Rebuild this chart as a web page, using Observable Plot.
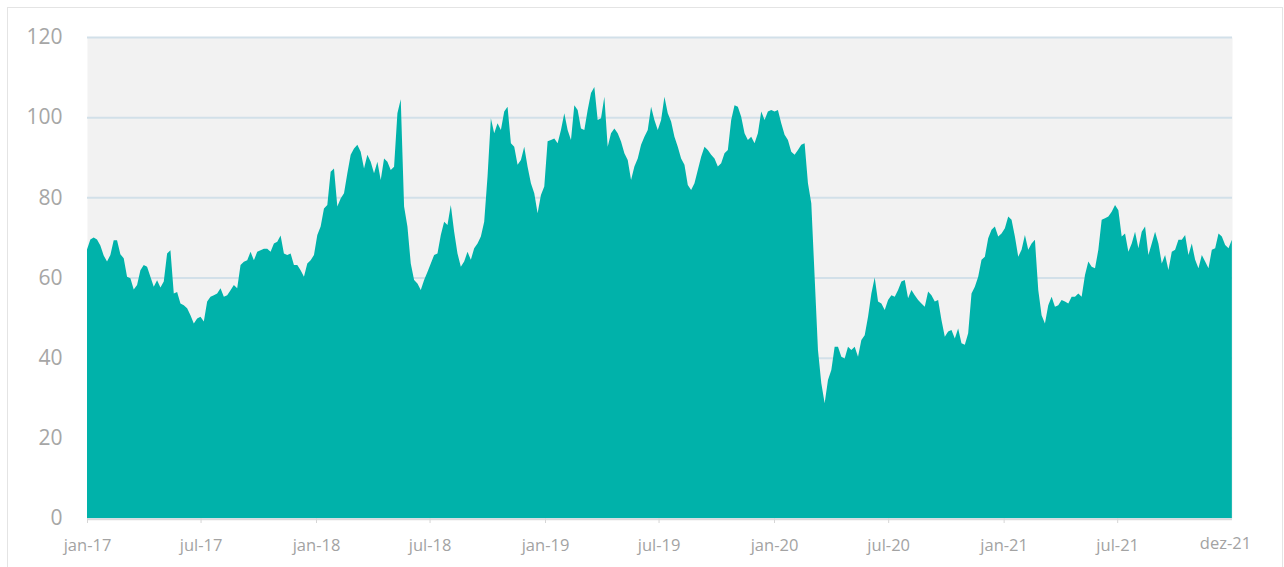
<!DOCTYPE html>
<html>
<head>
<meta charset="utf-8">
<script src="https://cdn.jsdelivr.net/npm/d3@7"></script>
<script src="https://cdn.jsdelivr.net/npm/@observablehq/plot@0.6"></script>
<style>
  html, body { margin: 0; padding: 0; background: #ffffff; }
  body { width: 1284px; height: 567px; position: relative; overflow: hidden; font-family: "Open Sans", sans-serif; }
  #frame { position: absolute; left: 7px; top: 7px; width: 1276px; height: 580px; border: 1px solid #e4e4e4; box-sizing: border-box; }
  #chart { position: absolute; left: 0; top: 0; }
</style>
</head>
<body>
<div id="frame"></div>
<div id="chart"></div>
<script>
// Series start and sampling step (one every ~5.32 days)
const startDate = "2017-01-01";
const stepDays = 5.32;

const values2017 = [67.0,69.5,70.0,69.5,68.0,65.5,64.0,65.6,69.3,69.3,65.8,64.8,60.2,59.8,57.0,58.1,61.8,63.1,62.7,60.2,
  57.7,59.3,57.5,59.0,66.0,66.8,56.0,56.4,53.5,53.1,52.3,50.6,48.5,49.8,50.2,49.0,54.0,55.2,55.6,56.0,
  57.3,55.2,55.6,56.8,58.1,57.3,63.1,63.9,64.3,66.4,64.3,66.4,66.8,67.2,67.2,66.4,68.5,68.9,70.5,66.0,
  65.6,66.0,63.1,63.1,61.8,60.2,63.5,64.3,65.6];
const values2018 = [70.6,72.7,77.2,78.1,86.4,87.2,77.7,79.7,81.0,86.0,90.6,92.2,93.1,91.4,87.2,90.6,88.9,86.0,88.9,84.3,
  89.7,88.9,86.8,87.6,101.0,104.5,77.7,72.7,63.5,59.4,58.5,56.9,59.4,61.4,63.5,65.6,66.0,70.6,73.9,73.1,
  78.1,71.4,66.0,62.7,64.0,66.4,64.4,67.3,68.5,70.2,73.9,85.2,99.7,96.0,98.5,96.8,101.4,102.6,93.5,92.6,
  88.1,89.3,92.6,87.6,83.5,81.0,76.0,80.6,82.7];
const values2019 = [94.0,94.3,94.7,93.5,96.8,101.0,96.8,94.3,103.0,101.8,97.2,96.8,101.8,106.0,107.5,99.3,99.7,105.1,92.6,96.0,
  97.2,96.0,93.9,91.0,89.3,84.3,87.7,89.7,93.1,95.1,96.8,102.6,99.3,96.8,99.3,105.1,101.0,98.9,95.1,92.6,
  89.7,88.1,83.1,81.8,83.5,86.8,90.1,92.6,91.8,90.6,89.7,87.7,88.5,91.0,91.8,99.3,103.0,102.6,100.1,96.0,
  94.3,95.1,93.5,96.0,101.4,99.3,101.4,101.8];
const values2020 = [101.4,101.8,98.5,95.6,94.3,91.4,90.6,91.8,93.1,93.5,83.5,78.5,60.2,41.9,33.6,28.6,34.4,36.9,42.7,42.7,
  40.2,39.8,42.7,41.9,42.7,40.2,44.4,45.6,50.2,56.0,60.0,54.0,53.5,51.9,54.4,55.6,55.2,56.9,59.0,59.4,
  54.8,56.9,55.6,54.4,53.5,52.7,56.5,55.6,54.0,54.4,49.4,45.2,46.5,46.9,44.8,47.3,43.6,43.2,46.1,56.0,
  57.7,60.2,64.4,65.2,69.8,71.9,72.7,70.2,71.0];
const values2021 = [72.3,75.2,74.4,70.2,65.2,66.9,70.6,66.9,68.5,69.4,56.9,50.6,48.5,53.1,55.2,52.7,53.1,54.4,54.0,53.5,
  55.2,55.2,56.0,55.2,60.6,64.0,62.7,62.3,66.9,74.4,74.8,75.2,76.4,78.1,76.8,70.2,71.0,66.4,68.5,71.4,
  67.3,71.4,72.7,65.6,68.5,71.4,68.5,63.5,65.6,61.9,66.4,66.9,69.4,69.4,70.6,65.6,68.5,64.4,62.3,65.6,
  64.0,62.3,66.9,67.3,71.0,70.2,68.1,67.3,69.4];

const yTicks = [0, 20, 40, 60, 80, 100, 120];
const xTickDates = ["2017-01-01","2017-07-01","2018-01-01","2018-07-01","2019-01-01","2019-07-01",
  "2020-01-01","2020-07-01","2021-01-01","2021-07-01"];
const xTickLabels = ["jan-17","jul-17","jan-18","jul-18","jan-19","jul-19","jan-20","jul-20","jan-21","jul-21"];
const lastLabel = "dez-21";

const allValues = [...values2017, ...values2018, ...values2019, ...values2020, ...values2021];
const t0 = new Date(startDate + "T00:00:00Z").getTime();
const data = allValues.map((v, i) => ({date: new Date(t0 + i * stepDays * 86400000), value: v}));
const tickDates = xTickDates.map(s => new Date(s + "T00:00:00Z"));
const labelOf = new Map(tickDates.map((d, i) => [+d, xTickLabels[i]]));
const endDate = new Date("2021-12-31T00:00:00Z");

const chart = Plot.plot({
  width: 1284,
  height: 567,
  marginLeft: 87,
  marginRight: 52,
  marginTop: 37,
  marginBottom: 49,
  style: {background: "transparent", fontFamily: "'Open Sans', sans-serif"},
  x: {type: "utc", domain: [new Date(startDate + "T00:00:00Z"), endDate]},
  y: {domain: [0, 120]},
  marks: [
    Plot.frame({fill: "#f2f2f2", stroke: null}),
    Plot.ruleY(yTicks, {stroke: "#d2e0e9", strokeWidth: 2}),
    Plot.areaY(data, {x: "date", y: "value", fill: "#00b2aa", curve: "linear"}),
    Plot.ruleY([0], {stroke: "#dadada", strokeWidth: 1.5, dy: 1}),
    Plot.axisY({ticks: yTicks, tickSize: 0, tickPadding: 25, fontSize: 21, fill: "#a6a6a6", label: null}),
    Plot.axisX({ticks: tickDates, tickFormat: d => labelOf.get(+d), tickSize: 5, tickPadding: 16,
      fontSize: 16.5, fill: "#a3a3a3", stroke: "#d6d6d6", label: null}),
    Plot.text([lastLabel], {x: () => endDate, frameAnchor: "bottom", dx: -7, dy: 30,
      fontSize: 16.5, fill: "#a3a3a3", text: d => d})
  ]
});
document.getElementById("chart").appendChild(chart);
</script>
</body>
</html>
